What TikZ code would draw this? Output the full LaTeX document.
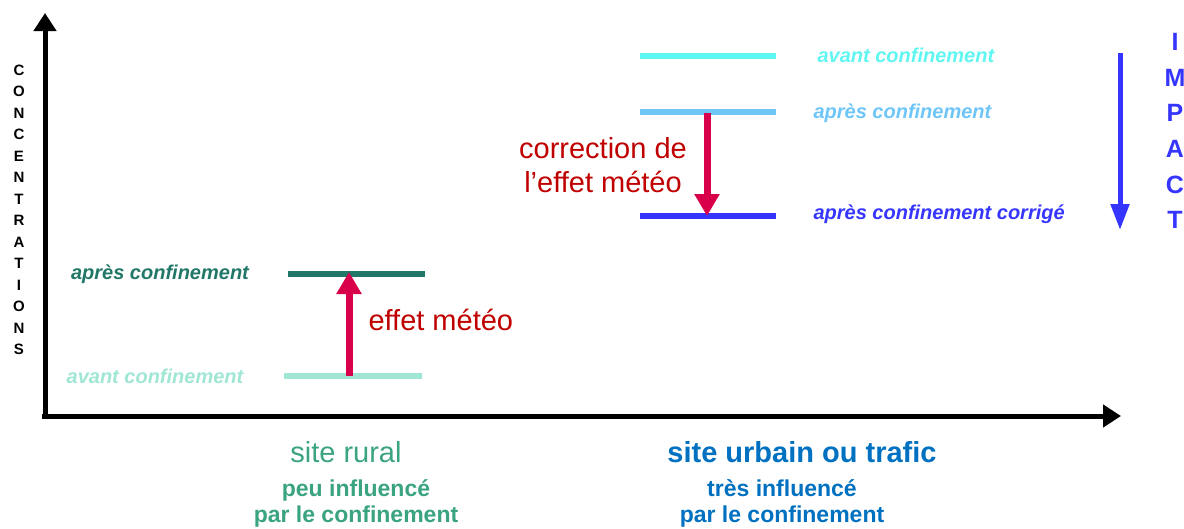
\documentclass[tikz,border=0pt]{standalone}
\usepackage{fontspec}
\setmainfont{Liberation Sans}
\usetikzlibrary{arrows.meta}
\definecolor{ruraldark}{HTML}{217868}
\definecolor{rurallight}{HTML}{A0E6D4}
\definecolor{ruraltext}{HTML}{3AA37F}
\definecolor{urbcyan}{HTML}{5FF5F0}
\definecolor{urblight}{HTML}{6EC6F8}
\definecolor{urbblue}{HTML}{3535FF}
\definecolor{urbtext}{HTML}{0070C0}
\definecolor{meteoarrow}{HTML}{D8004A}
\definecolor{meteotext}{HTML}{C00000}

\begin{document}
\begin{tikzpicture}[x=1pt,y=-1pt,
    axis/.style={line width=5pt,-{Triangle[length=18pt,width=22pt]}},
    level/.style={line width=5.5pt},
    meteo/.style={line width=7pt,draw=meteoarrow,-{Triangle[length=22pt,width=24pt]}},
    lvltext/.style={font=\fontsize{20}{24}\selectfont\bfseries\itshape},
    bigtext/.style={font=\fontsize{29}{34}\selectfont,align=center},
    subtext/.style={font=\fontsize{23}{26}\selectfont\bfseries,align=center}]
        \useasboundingbox (0,0) rectangle (1184,528);
        % axes
        \coordinate(O) at (45,418) {};
        \coordinate(Ytop) at (45,13) {};
        \coordinate(Xend) at (1121,416) {};
        \draw[axis] (O)--(Ytop);
        \draw[axis] (42,416)--(Xend);
        \node[font=\fontsize{15}{21.5}\selectfont\bfseries,align=center] (conc) at (19,210)
            {C\\O\\N\\C\\E\\N\\T\\R\\A\\T\\I\\O\\N\\S};
        % site rural
        \coordinate(RA1) at (284,376) {};
        \coordinate(RA2) at (422,376) {};
        \coordinate(RB1) at (288,274) {};
        \coordinate(RB2) at (425,274) {};
        \draw[level,rurallight] (RA1)--(RA2);
        \draw[level,ruraldark] (RB1)--(RB2);
        \node[lvltext,text=rurallight] (ravant) at (155,376) {avant confinement};
        \node[lvltext,text=ruraldark] (rapres) at (160,274) {après confinement};
        \coordinate(RM1) at (349,376) {};
        \coordinate(RM2) at (349,272) {};
        \draw[meteo] (RM1)--(RM2);
        \node[bigtext,text=meteotext,anchor=west] (effet) at (365,320) {effet météo};
        % site urbain
        \coordinate(UA1) at (640,56) {};
        \coordinate(UA2) at (776,56) {};
        \coordinate(UB1) at (640,112) {};
        \coordinate(UB2) at (776,112) {};
        \coordinate(UC1) at (640,216) {};
        \coordinate(UC2) at (776,216) {};
        \draw[level,urbcyan] (UA1)--(UA2);
        \draw[level,urblight] (UB1)--(UB2);
        \draw[level,urbblue] (UC1)--(UC2);
        \node[lvltext,text=urbcyan,anchor=west] (uavant) at (814,55) {avant confinement};
        \node[lvltext,text=urblight,anchor=west] (uapres) at (810,113) {après confinement};
        \node[lvltext,text=urbblue,anchor=west] (ucorr) at (810,214) {après confinement corrigé};
        \coordinate(UM1) at (707,113) {};
        \coordinate(UM2) at (707,216) {};
        \draw[meteo] (UM1)--(UM2);
        \node[bigtext,text=meteotext] (corr) at (603,165) {correction de\\l’effet météo};
        % impact
        \coordinate(I1) at (1120,53) {};
        \coordinate(I2) at (1120,230) {};
        \draw[line width=5pt,urbblue,-{Triangle[length=26pt,width=18pt]}] (I1)--(I2);
        \node[font=\fontsize{25}{35.6}\selectfont\bfseries,text=urbblue,align=center] (impact) at (1175,131)
            {I\\M\\P\\A\\C\\T};
        % sites
        \node[bigtext,text=ruraltext] (rural) at (346,452) {site rural};
        \node[bigtext,text=urbtext,font=\fontsize{29}{34}\selectfont\bfseries] (urbain) at (802,452) {site urbain ou trafic};
        \node[subtext,text=ruraltext] (peu) at (356,503) {peu influencé\\par le confinement};
        \node[subtext,text=urbtext] (tres) at (782,503) {très influencé\\par le confinement};
    \end{tikzpicture}
\end{document}
